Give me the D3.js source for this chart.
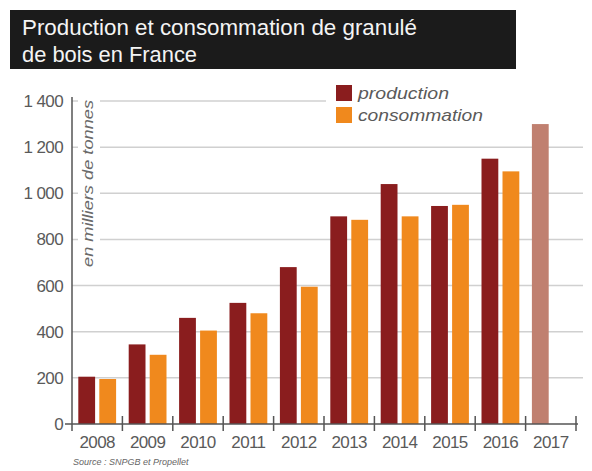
<!DOCTYPE html>
<html>
<head>
<meta charset="utf-8">
<script src="https://cdn.jsdelivr.net/npm/d3@7"></script>
<style>
  html, body { margin: 0; padding: 0; background: #fff; }
  svg { display: block; font-family: "Liberation Sans", Arial, sans-serif; }
</style>
</head>
<body>
<svg id="chart" width="592" height="471"></svg>
<script>
const years = ["2008","2009","2010","2011","2012","2013","2014","2015","2016","2017"];
const production = [205, 345, 460, 525, 680, 900, 1040, 945, 1150, 1300];
const consommation = [195, 300, 405, 480, 595, 885, 900, 950, 1095, null];
const yTicks = [0, 200, 400, 600, 800, 1000, 1200, 1400];
const seriesNames = ["production", "consommation"];
const titleLines = ["Production et consommation de granulé", "de bois en France"];
const yLabel = "en milliers de tonnes";
const sourceText = "Source : SNPGB et Propellet";

const colors = { production: "#8a1d1e", consommation: "#f0891d", forecast: "#c08070" };

const svg = d3.select("#chart");

// Title box
svg.append("rect").attr("x", 10).attr("y", 10).attr("width", 506).attr("height", 59).attr("fill", "#1b1b1b");
const titleLens = [395, 175];
titleLines.forEach((t, i) => {
  svg.append("text").attr("x", 22).attr("y", 35 + i * 27)
    .attr("fill", "#f4f4f4").attr("font-size", 22).attr("font-weight", 500)
    .attr("textLength", titleLens[i]).attr("lengthAdjust", "spacingAndGlyphs")
    .text(t);
});

const x0 = 72, x1 = 576, yTop = 101, yBase = 424;
const x = d3.scaleBand().domain(years).range([x0, x1]).padding(0);
const xs = d3.scaleBand().domain(seriesNames).range([0, x.bandwidth()]).paddingInner(0.2).paddingOuter(0.3);
const y = d3.scaleLinear().domain([0, 1400]).range([yBase, yTop]);

// gridlines
svg.append("g").selectAll("line").data(yTicks.filter(d => d > 0)).join("line")
  .attr("x1", x0).attr("x2", 583)
  .attr("y1", d => y(d)).attr("y2", d => y(d))
  .attr("stroke", "#d0d0d0").attr("stroke-width", 1.5);

// white backgrounds for y label and legend
svg.append("rect").attr("x", 78).attr("y", 95).attr("width", 22).attr("height", 176).attr("fill", "#fff");
svg.append("rect").attr("x", 326).attr("y", 82).attr("width", 264).attr("height", 46).attr("fill", "#fff");

// bars
const data = years.map((yr, i) => ({ year: yr, production: production[i], consommation: consommation[i] }));
const groups = svg.append("g").selectAll("g").data(data).join("g")
  .attr("transform", d => `translate(${x(d.year)},0)`);
groups.selectAll("rect")
  .data(d => seriesNames.filter(k => d[k] != null).map(k => ({ key: k, value: d[k], year: d.year })))
  .join("rect")
  .attr("x", d => xs(d.key))
  .attr("width", xs.bandwidth())
  .attr("y", d => y(d.value))
  .attr("height", d => yBase - y(d.value))
  .attr("fill", d => d.year === "2017" ? colors.forecast : colors[d.key]);

// y axis line
svg.append("line").attr("x1", x0).attr("x2", x0).attr("y1", 97).attr("y2", 431)
  .attr("stroke", "#555").attr("stroke-width", 1.5);
// zero tick
svg.append("line").attr("x1", 65).attr("x2", x0).attr("y1", yBase).attr("y2", yBase)
  .attr("stroke", "#555").attr("stroke-width", 1.5);

// y tick labels
svg.append("g").selectAll("text").data(yTicks).join("text")
  .attr("x", 63).attr("y", d => y(d) + 6)
  .attr("text-anchor", "end").attr("font-size", 17).attr("fill", "#5a5a5a")
  .attr("letter-spacing", -0.6)
  .text(d => d3.format(",")(d).replace(/,/g, " "));

// x axis
svg.append("line").attr("x1", x0).attr("x2", 578).attr("y1", yBase).attr("y2", yBase)
  .attr("stroke", "#555").attr("stroke-width", 1.5);
const bounds = years.slice(1).map(yr => x(yr)).concat([x1]);
svg.append("g").selectAll("line").data(bounds).join("line")
  .attr("x1", d => d).attr("x2", d => d).attr("y1", 416).attr("y2", 431)
  .attr("stroke", "#555").attr("stroke-width", 1.5);
svg.append("g").selectAll("text").data(years).join("text")
  .attr("x", d => x(d) + x.bandwidth() / 2).attr("y", 448)
  .attr("text-anchor", "middle").attr("font-size", 17).attr("fill", "#5a5a5a")
  .attr("letter-spacing", -0.6)
  .text(d => d);

// y label
svg.append("text")
  .attr("transform", `translate(93,267) rotate(-90)`)
  .attr("font-size", 15).attr("font-style", "italic").attr("fill", "#6a6a6a")
  .attr("textLength", 167).attr("lengthAdjust", "spacingAndGlyphs")
  .text(yLabel);

// legend
const legLens = [91, 125];
seriesNames.forEach((k, i) => {
  svg.append("rect").attr("x", 336).attr("y", 85 + i * 22).attr("width", 16).attr("height", 16)
    .attr("fill", colors[k]);
  svg.append("text").attr("x", 358).attr("y", 99 + i * 22)
    .attr("font-size", 17).attr("font-style", "italic").attr("fill", "#5a5a5a")
    .attr("textLength", legLens[i]).attr("lengthAdjust", "spacingAndGlyphs")
    .text(k);
});

// source
svg.append("text").attr("x", 73).attr("y", 465)
  .attr("font-size", 9).attr("font-style", "italic").attr("fill", "#666")
  .text(sourceText);
</script>
</body>
</html>
